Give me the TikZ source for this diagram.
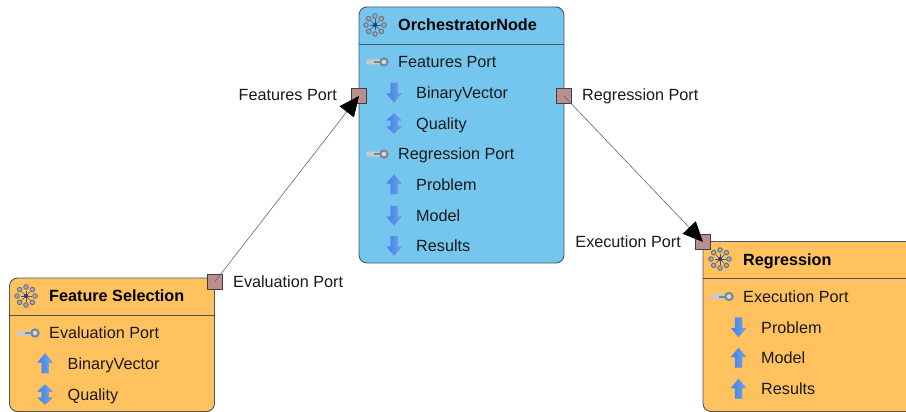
\documentclass[tikz,border=0pt]{standalone}
\usepackage{fontspec}
\setmainfont{Liberation Sans}
\usetikzlibrary{arrows.meta,shadings}
\definecolor{bluefill}{HTML}{75C6EF}
\definecolor{orangefill}{HTML}{FFC25F}
\definecolor{portfill}{HTML}{BC8F8F}
\definecolor{edgegray}{HTML}{4A5560}
\definecolor{icongray}{HTML}{7C8A96}
\definecolor{arrowa}{HTML}{3F7FE6}
\definecolor{arrowb}{HTML}{2A5FD0}
\definecolor{arrowc}{HTML}{6FA6F0}
\tikzset{
  x=1pt,y=-1pt,
  classbox/.style={draw=edgegray,line width=0.9pt,rounded corners=8pt},
  divider/.style={draw=edgegray,line width=0.9pt},
  portbox/.style={draw=black!75,fill=portfill,line width=0.8pt,minimum size=15pt,inner sep=0pt,outer sep=0pt},
  title/.style={font=\fontsize{16.2}{18}\selectfont\bfseries,anchor=west,inner sep=0pt,text=black,text height=12pt,text depth=3pt,yshift=-1pt},
  item/.style={font=\fontsize{16.2}{18}\selectfont,anchor=west,inner sep=0pt,text=black!90,text height=12pt,text depth=3pt,yshift=-1pt},
  portlabel/.style={font=\fontsize{16.2}{18}\selectfont,inner sep=0pt,text=black!90,text height=12pt,text depth=3pt,yshift=-1pt},
  conn/.style={draw=black!60,line width=0.6pt,-{Triangle[length=20pt,width=18pt,color=black]}},
  arrowshade/.style={left color=arrowa,middle color=arrowb,right color=arrowc,draw=arrowb!70,line width=0.3pt},
  arrup/.pic={\shade[arrowshade]
     (0,-10)--(7.5,-1)--(3.5,-1)--(3.5,9.5)--(-3.5,9.5)--(-3.5,-1)--(-7.5,-1)--cycle;},
  arrdown/.pic={\shade[arrowshade]
     (0,10)--(7.5,1)--(3.5,1)--(3.5,-9.5)--(-3.5,-9.5)--(-3.5,1)--(-7.5,1)--cycle;},
  arrboth/.pic={\shade[arrowshade]
     (0,-10)--(7.5,-3)--(3.5,-3)--(3.5,3)--(7.5,3)--(0,10)--(-7.5,3)--(-3.5,3)--(-3.5,-3)--(-7.5,-3)--cycle;},
  keyicon/.pic={\fill[white!55!icongray,rounded corners=1pt] (-11,-2.5) rectangle (4,2.5);
     \fill[icongray] (-3,-0.7) rectangle (4,1);
     \draw[icongray,fill=white!70!icongray,line width=2.2pt] (7,0) circle (3.6pt);},
  clustericon/.pic={
     \foreach \a in {0,45,...,315}{
       \draw[edgegray!85,fill=icongray!70,line width=0.9pt] (\a:9) circle (2.3pt);
       \draw[edgegray,line width=0.7pt] (0,0) -- (\a:5.5);}
     \fill[edgegray!70!blue] (0,0) circle (2.2pt);},
}
\begin{document}
\begin{tikzpicture}
\useasboundingbox (0,0) rectangle (906,412);
% Orchestrator
\draw[classbox,fill=bluefill] (359,7) rectangle (564,263);
\draw[divider] (359,44) -- (564,44);
\pic at (375,25) {clustericon};
\node[title] (otitle) at (398,25.5) {OrchestratorNode};
\pic at (377,62) {keyicon};
\node[item] (oa) at (398,62) {Features Port};
\pic at (394,92.5) {arrdown};
\node[item] (ob) at (416,93) {BinaryVector};
\pic at (394,123.5) {arrboth};
\node[item] (oc) at (416,124) {Quality};
\pic at (377,154) {keyicon};
\node[item] (od) at (398,154) {Regression Port};
\pic at (394,184.5) {arrup};
\node[item] (oe) at (416,185) {Problem};
\pic at (394,215.5) {arrdown};
\node[item] (of) at (416,216) {Model};
\pic at (394,245.5) {arrdown};
\node[item] (og) at (416,246) {Results};
% Feature Selection
\draw[classbox,fill=orangefill] (9.5,278) rectangle (214.5,411.5);
\draw[divider] (9.5,315) -- (214.5,315);
\pic at (26,296) {clustericon};
\node[title] (ftitle) at (49,296) {Feature Selection};
\pic at (28,333) {keyicon};
\node[item] (fa) at (49,333) {Evaluation Port};
\pic at (45,363.5) {arrup};
\node[item] (fb) at (67.5,364) {BinaryVector};
\pic at (45,394.5) {arrboth};
\node[item] (fc) at (67.5,395) {Quality};
% Regression
\draw[classbox,fill=orangefill] (703,241.5) rectangle (925,411.5);
\draw[divider] (703,278) -- (906,278);
\pic at (720,259) {clustericon};
\node[title] (rtitle) at (743,260) {Regression};
\pic at (722,296.5) {keyicon};
\node[item] (ra) at (743,297) {Execution Port};
\pic at (738.5,327) {arrdown};
\node[item] (rb) at (761,327.5) {Problem};
\pic at (738.5,358) {arrup};
\node[item] (rc) at (761,358) {Model};
\pic at (738.5,389) {arrup};
\node[item] (rd) at (761,389) {Results};
% Ports
\node[portbox] (pf) at (359,96) {};
\node[portbox] (pr) at (564,96) {};
\node[portbox] (pe) at (215,281.5) {};
\node[portbox] (px) at (703,242) {};
% Port labels
\node[portlabel,anchor=east] (lf) at (337,95.5) {Features Port};
\node[portlabel,anchor=west] (lr) at (582,95.5) {Regression Port};
\node[portlabel,anchor=west] (le) at (233,281.5) {Evaluation Port};
\node[portlabel,anchor=east] (lx) at (681,241.5) {Execution Port};
% Connectors
\draw[conn] (pe.center) -- (pf.center);
\draw[conn] (pr.center) -- (px.center);
\end{tikzpicture}
\end{document}
